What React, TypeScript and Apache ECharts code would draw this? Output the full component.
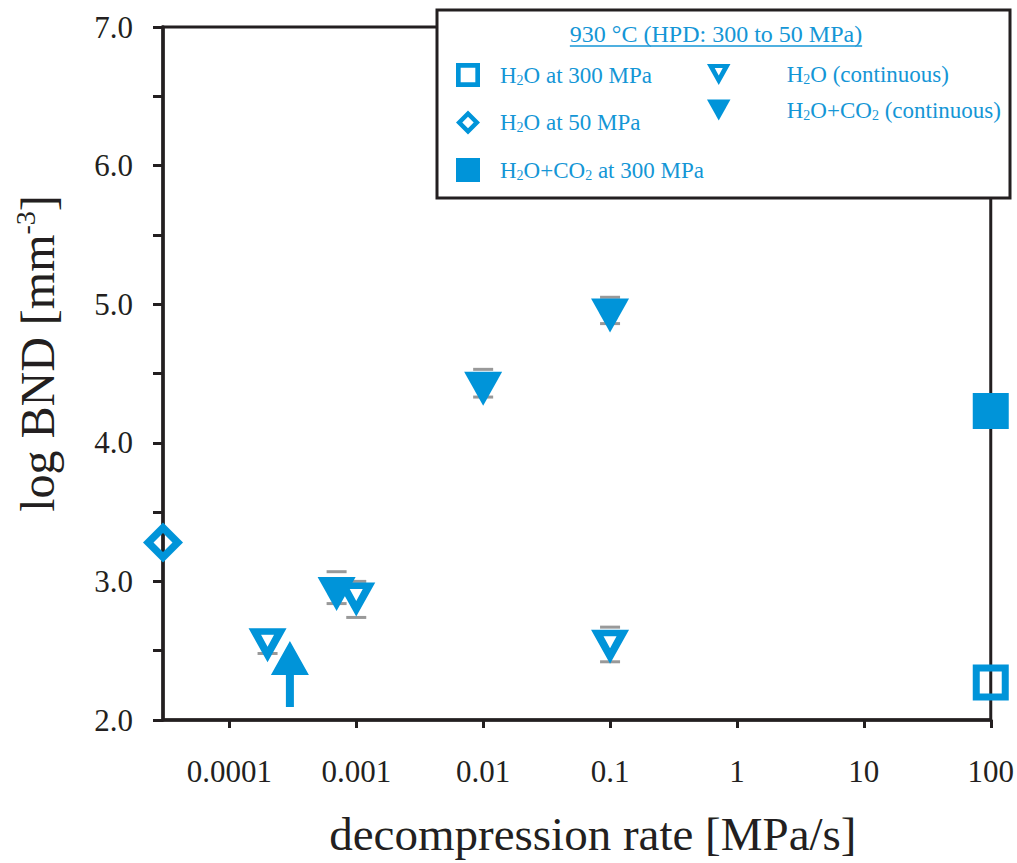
import React, { useEffect, useRef } from 'react';
import * as echarts from 'echarts';

// x axis: decompression rate (MPa/s), drawn on a log10 scale
const tickRates = [0.0001, 0.001, 0.01, 0.1, 1, 10, 100];
const tickLabels = ['0.0001', '0.001', '0.01', '0.1', '1', '10', '100'];
const rateMin = 3e-5;
const rateMax = 100;

// y axis: log BND
const bndMin = 2;
const bndMax = 7;
const bndStep = 0.5;

// H2O at 300 MPa (starting material)
const h2o300Rate = [100];
const h2o300Bnd = [2.27];

// H2O at 50 MPa (final pressure, no decompression)
const h2o50Rate = [3e-5];
const h2o50Bnd = [3.28];

// H2O+CO2 at 300 MPa
const co2300Rate = [100];
const co2300Bnd = [4.23];

// H2O, continuous decompression
const h2oContRate = [0.0002, 0.001, 0.1];
const h2oContBnd = [2.58, 2.91, 2.57];
const h2oContLow = [2.48, 2.74, 2.42];
const h2oContHigh = [2.63, 3.0, 2.67];

// H2O+CO2, continuous decompression
const co2ContRate = [0.0007, 0.01, 0.1];
const co2ContBnd = [2.95, 4.43, 4.96];
const co2ContLow = [2.84, 4.33, 4.86];
const co2ContHigh = [3.07, 4.53, 5.05];

// H2O+CO2 run giving only a lower limit
const limitRate = [0.0003];
const limitBnd = [2.57];

const INK = '#231f20';
const BLUE = '#0094d9';
const LEGEND_BLUE = '#1496d6';
const CAP_GREY = '#999999';
const SERIF = '"Liberation Serif", "Times New Roman", serif';

// Symbols (hollow shapes are filled outlines with a reversed inner contour)
const OPEN_SQUARE = 'path://M0,0H36V36H0Z M7,7V29H29V7Z';
const FILLED_SQUARE = 'path://M0,0H36V36H0Z';
const OPEN_DIAMOND = 'path://M20,0L40,20L20,40L0,20Z M20,10.5L10.5,20L20,29.5L29.5,20Z';
const OPEN_TRI = 'path://M0,0L38,0L19,34Z M12.5,6.5L19,18.5L25.5,6.5Z';
const FILLED_TRI = 'path://M0,0L38,0L19,34Z';
const ARROW_UP = 'path://M19,0L38,34L23,34L23,66L15,66L15,34L0,34Z';

const NAMES = {
  h2o300: 'H2O at 300 MPa',
  h2o50: 'H2O at 50 MPa',
  co2300: 'H2O+CO2 at 300 MPa',
  h2oCont: 'H2O (continuous)',
  co2Cont: 'H2O+CO2 (continuous)',
};

const RICH_NAMES: Record<string, string> = {
  [NAMES.h2o300]: '{h|H}{s|2}{n|O at 300 MPa}',
  [NAMES.h2o50]: '{h|H}{s|2}{n|O at 50 MPa}',
  [NAMES.co2300]: '{h|H}{s|2}{n|O+CO}{s|2}{n| at 300 MPa}',
  [NAMES.h2oCont]: '{h|H}{s|2}{n|O (continuous)}',
  [NAMES.co2Cont]: '{h|H}{s|2}{n|O+CO}{s|2}{n| (continuous)}',
};

const lg = (v: number) => Math.log10(v);
const pts = (rates: number[], vals: number[]) => rates.map((r, i) => [lg(r), vals[i]]);
const caps = (rates: number[], lo: number[], hi: number[]) =>
  rates.map((r, i) => [lg(r), lo[i], hi[i]]);

const legendRich = (lead: number) => ({
  h: { fontSize: 23, fontFamily: SERIF, color: LEGEND_BLUE, lineHeight: 24, padding: [0, 0, 0, lead] },
  n: { fontSize: 23, fontFamily: SERIF, color: LEGEND_BLUE, lineHeight: 24 },
  s: { fontSize: 14, fontFamily: SERIF, color: LEGEND_BLUE, lineHeight: 14, verticalAlign: 'bottom' },
});

function measure(text: string, font: string) {
  const ctx = document.createElement('canvas').getContext('2d');
  if (!ctx) return text.length * 11;
  ctx.font = font;
  return ctx.measureText(text).width;
}

export default function App() {
  const ref = useRef<HTMLDivElement>(null);

  useEffect(() => {
    document.body.style.margin = '0';
    document.body.style.overflow = 'hidden';
    if (!ref.current) return;
    const chart = echarts.init(ref.current, undefined, { renderer: 'svg' });

    const title = '930 °C (HPD: 300 to 50 MPa)';
    const titleX = 716;
    const titleY = 34;
    const titleW = measure(title, `24px ${SERIF}`);

    const capItem = (params: any, api: any) => {
      const x = api.value(0);
      const lo = api.coord([x, api.value(1)]);
      const hi = api.coord([x, api.value(2)]);
      const half = 10;
      const style = { stroke: CAP_GREY, lineWidth: 3 };
      return {
        type: 'group',
        children: [
          { type: 'line', shape: { x1: lo[0] - half, y1: lo[1], x2: lo[0] + half, y2: lo[1] }, style },
          { type: 'line', shape: { x1: hi[0] - half, y1: hi[1], x2: hi[0] + half, y2: hi[1] }, style },
        ],
      };
    };

    const marker = (name: string, symbol: string, size: any, data: number[][], offset?: number[]) => ({
      name,
      type: 'scatter',
      z: 3,
      symbol,
      symbolSize: size,
      symbolOffset: offset || [0, 0],
      itemStyle: { color: BLUE, opacity: 1 },
      emphasis: { disabled: true },
      data,
    });

    const option: any = {
      animation: false,
      backgroundColor: '#ffffff',
      grid: {
        left: 163,
        right: 18,
        top: 27,
        bottom: 143,
        show: true,
        borderColor: INK,
        borderWidth: 3,
        backgroundColor: 'transparent',
      },
      xAxis: {
        type: 'value',
        min: lg(rateMin),
        max: lg(rateMax),
        splitLine: { show: false },
        axisLine: { show: true, onZero: false, lineStyle: { color: INK, width: 3.5 } },
        axisTick: {
          show: true,
          customValues: tickRates.map(lg),
          length: 8,
          lineStyle: { color: INK, width: 3 },
        },
        axisLabel: {
          customValues: tickRates.map(lg),
          formatter: (v: number) => {
            const i = tickRates.findIndex((r) => Math.abs(lg(r) - v) < 1e-6);
            return i >= 0 ? tickLabels[i] : '';
          },
          fontFamily: SERIF,
          fontSize: 31,
          color: INK,
          margin: 36,
        },
        name: 'decompression rate [MPa/s]',
        nameLocation: 'middle',
        nameGap: 90,
        nameTextStyle: { fontFamily: SERIF, fontSize: 47, color: INK, padding: [0, 0, 0, 32] },
      },
      yAxis: {
        type: 'value',
        min: bndMin,
        max: bndMax,
        interval: bndStep,
        splitLine: { show: false },
        axisLine: { show: true, onZero: false, lineStyle: { color: INK, width: 3.5 } },
        axisTick: { show: true, length: 10, lineStyle: { color: INK, width: 3 } },
        axisLabel: {
          formatter: (v: number) => (Math.abs(v - Math.round(v)) < 1e-6 ? v.toFixed(1) : ''),
          fontFamily: SERIF,
          fontSize: 31,
          color: INK,
          margin: 30,
        },
        name: '{a|log BND [mm}{b|-3}{a|]}',
        nameLocation: 'middle',
        nameRotate: 90,
        nameGap: 100,
        nameTextStyle: {
          padding: [0, 0, 0, 40],
          rich: {
            a: { fontFamily: SERIF, fontSize: 48, color: INK, lineHeight: 52 },
            b: { fontFamily: SERIF, fontSize: 28, color: INK, lineHeight: 30, verticalAlign: 'top' },
          },
        },
      },
      legend: [
        {
          data: [NAMES.h2o300, NAMES.h2o50, NAMES.co2300],
          orient: 'vertical',
          left: 456,
          top: 63,
          padding: 0,
          itemWidth: 24,
          itemHeight: 24,
          itemGap: 23.5,
          selectedMode: false,
          z: 30,
          formatter: (name: string) => RICH_NAMES[name],
          textStyle: { rich: legendRich(15) },
        },
        {
          data: [NAMES.h2oCont, NAMES.co2Cont],
          orient: 'vertical',
          left: 707,
          top: 63,
          padding: 0,
          itemWidth: 24,
          itemHeight: 21,
          itemGap: 12,
          selectedMode: false,
          z: 30,
          formatter: (name: string) => RICH_NAMES[name],
          textStyle: { rich: legendRich(51) },
        },
      ],
      graphic: [
        {
          type: 'rect',
          z: 20,
          shape: { x: 437, y: 10, width: 573, height: 188 },
          style: { fill: '#ffffff', stroke: INK, lineWidth: 3 },
        },
        {
          type: 'text',
          z: 30,
          style: {
            text: title,
            x: titleX,
            y: titleY,
            fill: LEGEND_BLUE,
            fontSize: 24,
            fontFamily: SERIF,
            align: 'center',
            verticalAlign: 'middle',
          },
        },
        {
          type: 'line',
          z: 30,
          shape: { x1: titleX - titleW / 2, y1: titleY + 12, x2: titleX + titleW / 2, y2: titleY + 12 },
          style: { stroke: LEGEND_BLUE, lineWidth: 1.4 },
        },
      ],
      series: [
        {
          name: 'caps H2O',
          type: 'custom',
          z: 1,
          renderItem: capItem,
          encode: { x: 0, y: [1, 2] },
          data: caps(h2oContRate, h2oContLow, h2oContHigh),
          silent: true,
        },
        {
          name: 'caps H2O+CO2',
          type: 'custom',
          z: 1,
          renderItem: capItem,
          encode: { x: 0, y: [1, 2] },
          data: caps(co2ContRate, co2ContLow, co2ContHigh),
          silent: true,
        },
        marker(NAMES.h2o300, OPEN_SQUARE, 36, pts(h2o300Rate, h2o300Bnd)),
        marker(NAMES.h2o50, OPEN_DIAMOND, 40, pts(h2o50Rate, h2o50Bnd)),
        marker(NAMES.co2300, FILLED_SQUARE, 36, pts(co2300Rate, co2300Bnd)),
        marker(NAMES.h2oCont, OPEN_TRI, [38, 34], pts(h2oContRate, h2oContBnd), [0, 34 / 6]),
        marker(NAMES.co2Cont, FILLED_TRI, [38, 34], pts(co2ContRate, co2ContBnd), [0, 34 / 6]),
        marker('lower limit', ARROW_UP, [38, 66], pts(limitRate, limitBnd), [0, 33]),
      ],
    };

    chart.setOption(option);
    return () => chart.dispose();
  }, []);

  return (
    <div
      ref={ref}
      style={{ position: 'absolute', left: 0, top: 0, width: 1017, height: 863, background: '#fff' }}
    />
  );
}
